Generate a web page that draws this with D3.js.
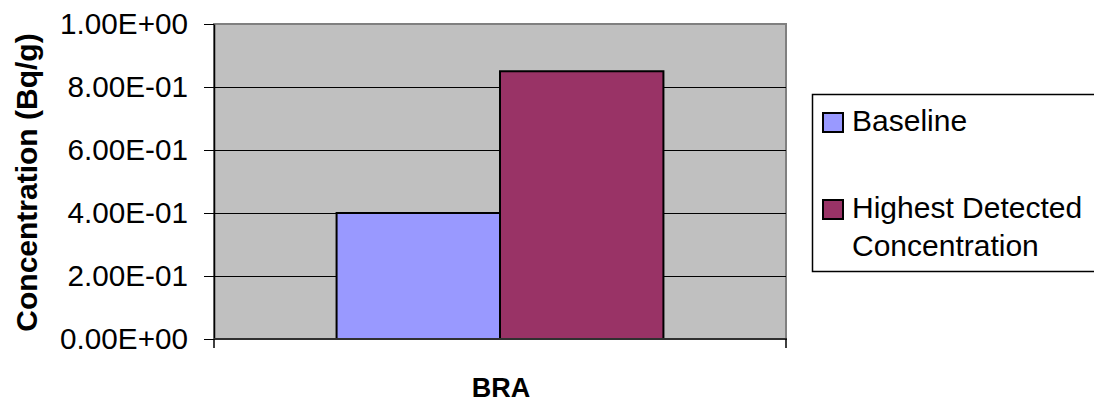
<!DOCTYPE html>
<html>
<head>
<meta charset="utf-8">
<script src="https://cdn.jsdelivr.net/npm/d3@7"></script>
<style>
  html, body { margin: 0; padding: 0; background: #fff; }
  svg { display: block; font-family: "Liberation Sans", Arial, sans-serif; }
</style>
</head>
<body>
<svg id="chart" width="1094" height="406"></svg>
<script>
const categories = ["BRA"];
const seriesNames = ["Baseline", "Highest Detected Concentration"];
const baselineValues = [0.40];
const highestValues = [0.85];
const yTicks = [0, 0.2, 0.4, 0.6, 0.8, 1.0];
const seriesColors = ["#9999FF", "#993366"];

const svg = d3.select("#chart");
const plot = { left: 214, right: 786, top: 24, bottom: 339 };

const y = d3.scaleLinear().domain([0, 1]).range([plot.bottom, plot.top]);
const x0 = d3.scaleBand().domain(categories).range([plot.left, plot.right]).padding(0);
const x1 = d3.scaleBand().domain(seriesNames).range([0, x0.bandwidth()])
  .paddingInner(0).paddingOuter(0.75);

const fmt = v => {
  const [m, e] = v.toExponential(2).split("e");
  const sign = e[0] === "-" ? "-" : "+";
  return m + "E" + sign + String(Math.abs(+e)).padStart(2, "0");
};

// plot background
svg.append("rect")
  .attr("x", plot.left).attr("y", plot.top)
  .attr("width", plot.right - plot.left).attr("height", plot.bottom - plot.top)
  .attr("fill", "#C0C0C0").attr("stroke", "#808080").attr("stroke-width", 2);

// gridlines
svg.append("g").selectAll("line")
  .data(yTicks.filter(t => t > 0 && t < 1))
  .join("line")
  .attr("x1", plot.left).attr("x2", plot.right)
  .attr("y1", d => Math.round(y(d)) + 0.5).attr("y2", d => Math.round(y(d)) + 0.5)
  .attr("stroke", "#000").attr("stroke-width", 1);

// bars
const data = categories.map((c, i) => ({
  cat: c,
  vals: [baselineValues[i], highestValues[i]]
}));
const groups = svg.append("g").selectAll("g")
  .data(data).join("g")
  .attr("transform", d => `translate(${x0(d.cat)},0)`);
groups.selectAll("rect")
  .data(d => d.vals.map((v, j) => ({ name: seriesNames[j], v, color: seriesColors[j] })))
  .join("rect")
  .attr("x", d => x1(d.name))
  .attr("y", d => y(d.v))
  .attr("width", x1.bandwidth())
  .attr("height", d => y(0) - y(d.v))
  .attr("fill", d => d.color)
  .attr("stroke", "#000")
  .attr("stroke-width", 2);

// y axis
const yAxis = d3.axisLeft(y).tickValues(yTicks).tickFormat(fmt)
  .tickSizeInner(10).tickSizeOuter(0).tickPadding(16);
const gy = svg.append("g").attr("transform", `translate(${plot.left},0)`).call(yAxis);
gy.select(".domain").attr("stroke", "#000").attr("stroke-width", 1.5);
gy.selectAll(".tick line").attr("stroke", "#000");
gy.selectAll(".tick text")
  .attr("font-size", 29.7).attr("fill", "#000")
  .attr("font-family", "'Liberation Sans', Arial, sans-serif");

// x axis (ticks at category band edges)
const xEdges = [x0.range()[0], x0.range()[1]];
svg.append("line")
  .attr("x1", plot.left).attr("x2", plot.right + 1)
  .attr("y1", plot.bottom).attr("y2", plot.bottom)
  .attr("stroke", "#303030").attr("stroke-width", 2);
svg.append("g").selectAll("line")
  .data(xEdges).join("line")
  .attr("x1", d => d).attr("x2", d => d)
  .attr("y1", plot.bottom).attr("y2", plot.bottom + 9)
  .attr("stroke", "#000").attr("stroke-width", 1.5);

// axis titles
svg.append("text")
  .attr("transform", `translate(37,${(plot.top + plot.bottom) / 2 + 1}) rotate(-90)`)
  .attr("text-anchor", "middle")
  .attr("font-size", 30).attr("font-weight", "bold")
  .text("Concentration (Bq/g)");

svg.append("text")
  .attr("x", x0(categories[0]) + x0.bandwidth() / 2 + 1)
  .attr("y", 397)
  .attr("text-anchor", "middle")
  .attr("font-size", 27).attr("font-weight", "bold")
  .text(categories[0]);

// legend
const lg = svg.append("g");
lg.append("rect")
  .attr("x", 812.5).attr("y", 94.5).attr("width", 300).attr("height", 177)
  .attr("fill", "#fff").attr("stroke", "#000").attr("stroke-width", 1.5);
const legendItems = [
  { name: seriesNames[0], lines: ["Baseline"], sy: 113, ty: 131 },
  { name: seriesNames[1], lines: ["Highest Detected", "Concentration"], sy: 200, ty: 218 }
];
legendItems.forEach((it, i) => {
  lg.append("rect")
    .attr("x", 823).attr("y", it.sy).attr("width", 20).attr("height", 19)
    .attr("fill", seriesColors[i]).attr("stroke", "#000").attr("stroke-width", 2);
  const t = lg.append("text").attr("x", 852).attr("y", it.ty).attr("font-size", 30);
  it.lines.forEach((ln, k) => {
    t.append("tspan").attr("x", 852).attr("dy", k === 0 ? 0 : 38).text(ln);
  });
});
</script>
</body>
</html>
